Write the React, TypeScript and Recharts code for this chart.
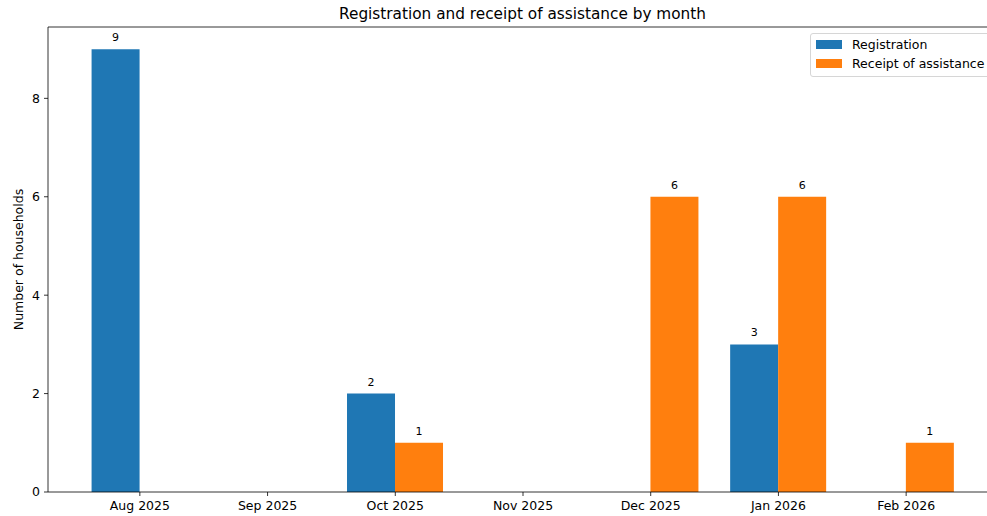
import React from "react";
import { BarChart, Bar, XAxis, YAxis, LabelList, ReferenceLine } from "recharts";

const months = ["Aug 2025", "Sep 2025", "Oct 2025", "Nov 2025", "Dec 2025", "Jan 2026", "Feb 2026"];
const registration = [9, 0, 2, 0, 0, 3, 0];
const receipt = [0, 0, 1, 0, 6, 6, 1];
const yTicks = [0, 2, 4, 6, 8];

const seriesNames = { registration: "Registration", receipt: "Receipt of assistance" };
const colors = { registration: "#1f77b4", receipt: "#ff7f0e" };

const data = months.map((m, i) => ({ month: m, registration: registration[i], receipt: receipt[i] }));

const FONT = "'DejaVu Sans', sans-serif";

const barLabel = (props: any) => {
  const { x, y, width, value } = props;
  if (!value) return null;
  return (
    <text x={Number(x) + Number(width) / 2} y={Number(y) - 8} textAnchor="middle" fontSize={11} fontFamily={FONT} fill="#000">
      {value}
    </text>
  );
};

export default function App() {
  return (
    <div style={{ position: "absolute", left: 0, top: 0, width: 987, height: 516, overflow: "hidden", background: "#fff", fontFamily: FONT }}>
      <div style={{ position: "absolute", left: 48, width: 949, top: 4, textAlign: "center", fontSize: 15.3, lineHeight: "20px", color: "#000" }}>
        Registration and receipt of assistance by month
      </div>
      <BarChart width={997} height={516} data={data} margin={{ top: 27, right: 0, bottom: 0, left: 0 }} barCategoryGap="12.2%" barGap={0}>
        <XAxis
          dataKey="month"
          height={24}
          padding={{ left: 28, right: 27 }}
          tick={{ fontSize: 12.5, fill: "#000", fontFamily: FONT }}
          tickSize={4}
          tickMargin={5}
          axisLine={{ stroke: "#000", strokeWidth: 0.8 }}
          tickLine={{ stroke: "#000", strokeWidth: 0.8 }}
          interval={0}
        />
        <YAxis
          width={48}
          domain={[0, 9.45]}
          ticks={yTicks}
          allowDataOverflow
          tick={{ fontSize: 12.5, fill: "#000", fontFamily: FONT }}
          tickSize={4}
          tickMargin={4}
          axisLine={{ stroke: "#000", strokeWidth: 0.8 }}
          tickLine={{ stroke: "#000", strokeWidth: 0.8 }}
          label={{
            content: () => (
              <text x={18} y={259.5} transform="rotate(-90 18 259.5)" textAnchor="middle" dominantBaseline="central" fontSize={12.5} fontFamily={FONT} fill="#000">
                Number of households
              </text>
            ),
          }}
        />
        <ReferenceLine y={9.45} stroke="#000" strokeWidth={0.8} />
        <Bar dataKey="registration" name={seriesNames.registration} fill={colors.registration} isAnimationActive={false}>
          <LabelList dataKey="registration" content={barLabel} />
        </Bar>
        <Bar dataKey="receipt" name={seriesNames.receipt} fill={colors.receipt} isAnimationActive={false}>
          <LabelList dataKey="receipt" content={barLabel} />
        </Bar>
      </BarChart>
      <div style={{ position: "absolute", left: 810, top: 33, width: 190, height: 42, border: "1px solid #d6d6d6", borderRadius: 3, background: "#fff", fontSize: 12.5, color: "#000" }}>
        {(["registration", "receipt"] as const).map((k, i) => (
          <div key={k} style={{ position: "absolute", left: 5, top: 2 + i * 19.5, height: 16, display: "flex", alignItems: "center", whiteSpace: "nowrap" }}>
            <span style={{ display: "inline-block", width: 26, height: 9, background: colors[k], marginRight: 10 }} />
            <span>{seriesNames[k]}</span>
          </div>
        ))}
      </div>
    </div>
  );
}
